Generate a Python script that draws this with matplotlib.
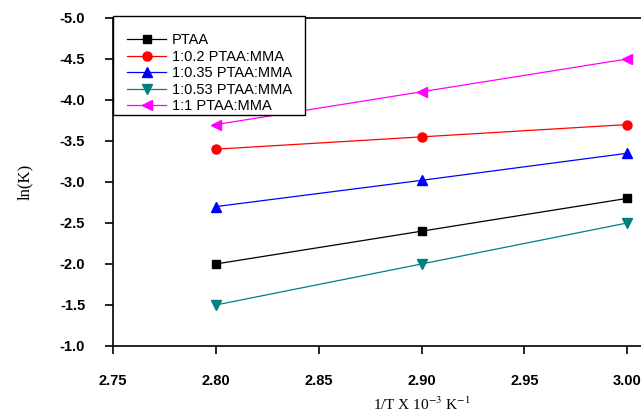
import matplotlib
matplotlib.use("Agg")
import matplotlib.pyplot as plt
from matplotlib.offsetbox import DrawingArea

inv_t = [2.80, 2.90, 3.00]

ptaa = [-2.0, -2.4, -2.8]
mma_02 = [-3.4, -3.55, -3.7]
mma_035 = [-2.7, -3.02, -3.35]
mma_053 = [-1.5, -2.0, -2.5]
mma_1 = [-3.7, -4.1, -4.5]

labels = ["PTAA", "1:0.2 PTAA:MMA", "1:0.35 PTAA:MMA",
          "1:0.53 PTAA:MMA", "1:1 PTAA:MMA"]
x_ticks = [2.75, 2.80, 2.85, 2.90, 2.95, 3.00]
y_ticks = [-5.0, -4.5, -4.0, -3.5, -3.0, -2.5, -2.0, -1.5, -1.0]

plt.rcParams["mathtext.fontset"] = "stix"

fig = plt.figure(figsize=(6.41, 4.16), dpi=100)
# axes run past the right edge like the cropped original
ax = fig.add_axes([0.1763, 0.1683, 0.9626, 0.7885])

series = [ptaa, mma_02, mma_035, mma_053, mma_1]
styles = [("black", "s", 6), ("red", "o", 6.5), ("blue", "^", 6.5),
          ("#008080", "v", 6.5), ("magenta", "<", 6.5)]
for vals, (col, mk, ms), lab in zip(series, styles, labels):
    ax.plot(inv_t, vals, color=col, marker=mk, markersize=ms,
            linewidth=0.9, label=lab)

ax.set_xlim(2.75, 3.05)
ax.set_ylim(-1.0, -5.0)
ax.set_xticks(x_ticks)
ax.set_xticklabels(["%.2f" % t for t in x_ticks])
ax.set_yticks(y_ticks)
ax.set_yticklabels(["%.1f" % t for t in y_ticks])

for s in ax.spines.values():
    s.set_linewidth(1.2)
ax.tick_params(direction="out", length=6, width=1.2, pad=14)
for lbl in ax.get_xticklabels() + ax.get_yticklabels():
    lbl.set_fontfamily("Liberation Sans")
    lbl.set_fontweight("bold")
    lbl.set_fontsize(10.5)

ax.set_xlabel(r"1/T X 10$^{-3}$ K$^{-1}$", fontfamily="Liberation Serif",
              fontsize=11, labelpad=6)
ax.set_ylabel("ln(K)", fontfamily="Liberation Serif", fontsize=12,
              labelpad=19)

leg = ax.legend(loc="upper left", bbox_to_anchor=(0, 1.005), borderaxespad=0,
                fancybox=False, framealpha=1, edgecolor="black",
                handlelength=2.7, handletextpad=0.4, labelspacing=0.17,
                borderpad=0.1, columnspacing=0, title=" ", title_fontsize=9,
                prop={"family": "Liberation Sans", "size": 10.5})
leg._legend_box.align = "left"
# extra side padding only, like the original box
hb = leg._legend_handle_box
hb._children.insert(0, DrawingArea(9, 0))
hb._children.append(DrawingArea(8, 0))
leg.get_frame().set_linewidth(1.0)

fig.savefig("out.png", dpi=100)
